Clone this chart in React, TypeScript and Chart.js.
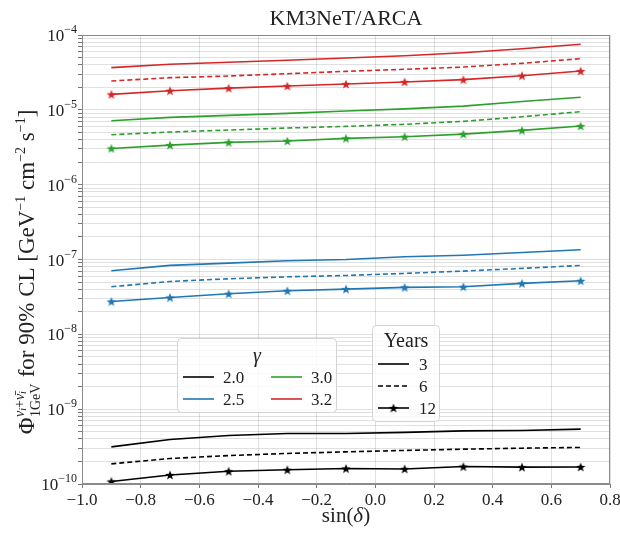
import React, { useEffect, useRef } from 'react';
import { Chart, registerables } from 'chart.js';

Chart.register(...registerables);

// ---------- data ----------
const sinDelta = [-0.9, -0.7, -0.5, -0.3, -0.1, 0.1, 0.3, 0.5, 0.7];
const gammaLabels = ['2.0', '2.5', '3.0', '3.2'];
const yearLabels = ['3', '6', '12'];
const yDecades = [-10, -9, -8, -7, -6, -5, -4];

const g32_y3 = [3.66e-5, 4.06e-5, 4.32e-5, 4.59e-5, 4.93e-5, 5.28e-5, 5.8e-5, 6.56e-5, 7.51e-5];
const g32_y6 = [2.43e-5, 2.69e-5, 2.83e-5, 3.04e-5, 3.27e-5, 3.48e-5, 3.73e-5, 4.18e-5, 4.83e-5];
const g32_y12 = [1.61e-5, 1.8e-5, 1.95e-5, 2.08e-5, 2.21e-5, 2.36e-5, 2.53e-5, 2.86e-5, 3.3e-5];

const g30_y3 = [7.14e-6, 7.94e-6, 8.43e-6, 8.97e-6, 9.64e-6, 1.03e-5, 1.12e-5, 1.29e-5, 1.47e-5];
const g30_y6 = [4.65e-6, 5.05e-6, 5.37e-6, 5.71e-6, 6.01e-6, 6.4e-6, 7.02e-6, 8.09e-6, 9.44e-6];
const g30_y12 = [3.05e-6, 3.38e-6, 3.67e-6, 3.83e-6, 4.16e-6, 4.37e-6, 4.74e-6, 5.32e-6, 6.07e-6];

const g25_y3 = [7.06e-8, 8.34e-8, 8.95e-8, 9.62e-8, 1.0e-7, 1.09e-7, 1.14e-7, 1.24e-7, 1.35e-7];
const g25_y6 = [4.32e-8, 5.09e-8, 5.52e-8, 5.87e-8, 6.12e-8, 6.52e-8, 7.0e-8, 7.6e-8, 8.34e-8];
const g25_y12 = [2.75e-8, 3.11e-8, 3.48e-8, 3.82e-8, 4.02e-8, 4.24e-8, 4.32e-8, 4.79e-8, 5.19e-8];

const g20_y3 = [3.13e-10, 3.94e-10, 4.45e-10, 4.73e-10, 4.73e-10, 4.89e-10, 5.13e-10, 5.19e-10, 5.41e-10];
const g20_y6 = [1.86e-10, 2.19e-10, 2.4e-10, 2.56e-10, 2.69e-10, 2.81e-10, 2.92e-10, 3.01e-10, 3.08e-10];
const g20_y12 = [1.08e-10, 1.32e-10, 1.48e-10, 1.55e-10, 1.61e-10, 1.59e-10, 1.71e-10, 1.68e-10, 1.69e-10];

// ---------- styles ----------
const COLORS: Record<string, string> = {
  '2.0': '#000000',
  '2.5': '#1f77b4',
  '3.0': '#2ca02c',
  '3.2': '#d62728',
};
const FONT = "'Liberation Serif', 'DejaVu Serif', serif";
const TEXT = '#222222';
const GRID = 'rgba(0,0,0,0.12)';

function makeStar(color: string, r: number) {
  const size = Math.ceil(r * 2 + 2);
  const c = document.createElement('canvas');
  c.width = size;
  c.height = size;
  const g = c.getContext('2d')!;
  const cx = size / 2;
  const cy = size / 2 + r * 0.1;
  g.beginPath();
  for (let i = 0; i < 10; i++) {
    const rad = i % 2 === 0 ? r : r * 0.42;
    const a = -Math.PI / 2 + (i * Math.PI) / 5;
    const x = cx + rad * Math.cos(a);
    const y = cy + rad * Math.sin(a);
    if (i === 0) g.moveTo(x, y);
    else g.lineTo(x, y);
  }
  g.closePath();
  g.fillStyle = color;
  g.fill();
  return c;
}

type Run = { t: string; size: number; dy: number; italic?: boolean };

function runFont(r: Run) {
  return `${r.italic ? 'italic ' : ''}${r.size}px ${FONT}`;
}

function measureRuns(ctx: CanvasRenderingContext2D, runs: Run[]) {
  return runs.reduce((a, r) => {
    ctx.font = runFont(r);
    return a + ctx.measureText(r.t).width;
  }, 0);
}

function drawRuns(ctx: CanvasRenderingContext2D, runs: Run[], x0: number, y0: number, centered: boolean) {
  const total = measureRuns(ctx, runs);
  let x = centered ? x0 - total / 2 : x0;
  runs.forEach((r) => {
    ctx.font = runFont(r);
    ctx.fillText(r.t, x, y0 + r.dy);
    x += ctx.measureText(r.t).width;
  });
  return total;
}

const overlayPlugin = {
  id: 'overlay',
  afterDraw(chart: any) {
    const ctx: CanvasRenderingContext2D = chart.ctx;
    const { left, right, top, bottom } = chart.chartArea;
    const yScale = chart.scales.y;
    ctx.save();

    // frame
    ctx.strokeStyle = '#8a8a8a';
    ctx.lineWidth = 1;
    ctx.strokeRect(left + 0.5, top + 0.5, right - left - 1, bottom - top - 1);

    ctx.fillStyle = TEXT;
    ctx.textBaseline = 'alphabetic';
    ctx.textAlign = 'left';

    // y tick labels 10^e
    yDecades.forEach((e) => {
      const y = yScale.getPixelForValue(Math.pow(10, e));
      const sup = '\u2212' + Math.abs(e);
      ctx.font = `12px ${FONT}`;
      const sw = ctx.measureText(sup).width;
      ctx.font = `17px ${FONT}`;
      const bw = ctx.measureText('10').width;
      const xr = left - 5;
      ctx.fillText('10', xr - sw - bw, y + 6);
      ctx.font = `12px ${FONT}`;
      ctx.fillText(sup, xr - sw, y - 2);
    });

    // title
    ctx.textAlign = 'center';
    ctx.font = `22px ${FONT}`;
    ctx.fillText('KM3NeT/ARCA', (left + right) / 2, 25);

    // x axis title
    ctx.textAlign = 'left';
    drawRuns(
      ctx,
      [
        { t: 'sin(', size: 21, dy: 0 },
        { t: 'δ', size: 21, dy: 0, italic: true },
        { t: ')', size: 21, dy: 0 },
      ],
      (left + right) / 2,
      522,
      true
    );

    // y axis title (rotated)
    ctx.save();
    ctx.translate(26, 272);
    ctx.rotate(-Math.PI / 2);
    const big = 23;
    const small = 14;
    const tiny = 10;
    const pre: Run[] = [{ t: 'Φ', size: big, dy: 0 }];
    const supRuns: Run[] = [
      { t: 'ν', size: small, dy: -10, italic: true },
      { t: 'i', size: tiny, dy: -8, italic: true },
      { t: '+', size: small, dy: -10 },
      { t: 'ν\u0304', size: small, dy: -10, italic: true },
      { t: 'i', size: tiny, dy: -8, italic: true },
    ];
    const subRuns: Run[] = [{ t: '1GeV', size: small, dy: 6 }];
    const post: Run[] = [
      { t: ' for 90% CL [GeV', size: big, dy: 0 },
      { t: '\u22121', size: small, dy: -9 },
      { t: ' cm', size: big, dy: 0 },
      { t: '\u22122', size: small, dy: -9 },
      { t: ' s', size: big, dy: 0 },
      { t: '\u22121', size: small, dy: -9 },
      { t: ']', size: big, dy: 0 },
    ];
    const wPre = measureRuns(ctx, pre);
    const wSup = measureRuns(ctx, supRuns);
    const wSub = measureRuns(ctx, subRuns);
    const wStack = Math.max(wSup, wSub) + 1;
    const wPost = measureRuns(ctx, post);
    const total = wPre + wStack + wPost;
    let x = -total / 2;
    ctx.textAlign = 'left';
    drawRuns(ctx, pre, x, 8, false);
    x += wPre;
    drawRuns(ctx, supRuns, x + 0.5, 8, false);
    drawRuns(ctx, subRuns, x + 0.5, 8, false);
    x += wStack;
    drawRuns(ctx, post, x, 8, false);
    ctx.restore();

    // legend boxes
    const box = (bx: number, by: number, w: number, h: number) => {
      ctx.beginPath();
      const r = 4;
      ctx.moveTo(bx + r, by);
      ctx.lineTo(bx + w - r, by);
      ctx.quadraticCurveTo(bx + w, by, bx + w, by + r);
      ctx.lineTo(bx + w, by + h - r);
      ctx.quadraticCurveTo(bx + w, by + h, bx + w - r, by + h);
      ctx.lineTo(bx + r, by + h);
      ctx.quadraticCurveTo(bx, by + h, bx, by + h - r);
      ctx.lineTo(bx, by + r);
      ctx.quadraticCurveTo(bx, by, bx + r, by);
      ctx.closePath();
      ctx.fillStyle = 'rgba(255,255,255,0.8)';
      ctx.fill();
      ctx.strokeStyle = '#d4d4d4';
      ctx.lineWidth = 1;
      ctx.stroke();
    };

    // gamma legend
    box(177.5, 338.5, 159, 74);
    ctx.fillStyle = TEXT;
    ctx.textAlign = 'center';
    ctx.font = `italic 20px ${FONT}`;
    ctx.fillText('γ', 257, 362);
    const gpos = [
      { lab: gammaLabels[0], x: 183, y: 377 },
      { lab: gammaLabels[1], x: 183, y: 399 },
      { lab: gammaLabels[2], x: 271, y: 377 },
      { lab: gammaLabels[3], x: 271, y: 399 },
    ];
    gpos.forEach((p) => {
      ctx.strokeStyle = COLORS[p.lab];
      ctx.lineWidth = 1.6;
      ctx.setLineDash([]);
      ctx.beginPath();
      ctx.moveTo(p.x, p.y);
      ctx.lineTo(p.x + 31, p.y);
      ctx.stroke();
      ctx.fillStyle = TEXT;
      ctx.textAlign = 'left';
      ctx.font = `17px ${FONT}`;
      ctx.fillText(p.lab, p.x + 40, p.y + 6);
    });

    // years legend
    box(372.5, 325.5, 67, 96);
    ctx.fillStyle = TEXT;
    ctx.textAlign = 'center';
    ctx.font = `20px ${FONT}`;
    ctx.fillText('Years', 406, 347);
    const ypos = [364, 386, 408];
    yearLabels.forEach((lab, i) => {
      const yy = ypos[i];
      ctx.strokeStyle = '#000';
      ctx.lineWidth = 1.6;
      ctx.setLineDash(i === 1 ? [5, 3] : []);
      ctx.beginPath();
      ctx.moveTo(378, yy);
      ctx.lineTo(409, yy);
      ctx.stroke();
      ctx.setLineDash([]);
      if (i === 2) {
        const s = makeStar('#000', 5);
        ctx.drawImage(s, 393.5 - s.width / 2, yy - s.height / 2);
      }
      ctx.fillStyle = TEXT;
      ctx.textAlign = 'left';
      ctx.font = `17px ${FONT}`;
      ctx.fillText(lab, 419, yy + 6);
    });

    ctx.restore();
  },
};

export default function App() {
  const ref = useRef<HTMLCanvasElement | null>(null);

  useEffect(() => {
    document.body.style.margin = '0';
    const canvas = ref.current;
    if (!canvas) return;

    const series: { g: string; y: string; data: number[] }[] = [
      { g: '2.0', y: '3', data: g20_y3 },
      { g: '2.0', y: '6', data: g20_y6 },
      { g: '2.0', y: '12', data: g20_y12 },
      { g: '2.5', y: '3', data: g25_y3 },
      { g: '2.5', y: '6', data: g25_y6 },
      { g: '2.5', y: '12', data: g25_y12 },
      { g: '3.0', y: '3', data: g30_y3 },
      { g: '3.0', y: '6', data: g30_y6 },
      { g: '3.0', y: '12', data: g30_y12 },
      { g: '3.2', y: '3', data: g32_y3 },
      { g: '3.2', y: '6', data: g32_y6 },
      { g: '3.2', y: '12', data: g32_y12 },
    ];

    const datasets = series.map((s) => {
      const color = COLORS[s.g];
      const star = s.y === '12';
      return {
        label: `γ=${s.g}, ${s.y} yr`,
        data: sinDelta.map((x, i) => ({ x, y: s.data[i] })),
        borderColor: color,
        backgroundColor: color,
        borderWidth: 1.6,
        borderDash: s.y === '6' ? [5, 3] : [],
        pointStyle: star ? makeStar(color, 5) : 'circle',
        pointRadius: star ? 5 : 0,
        pointHoverRadius: star ? 5 : 0,
        tension: 0,
        fill: false,
      };
    });

    const chart = new Chart(canvas, {
      type: 'line',
      data: { datasets },
      options: {
        responsive: false,
        animation: false,
        events: [],
        layout: { padding: { top: 35, right: 10, left: 0, bottom: 0 } },
        plugins: {
          legend: { display: false },
          tooltip: { enabled: false },
          title: { display: false },
        },
        scales: {
          x: {
            type: 'linear',
            min: -1.0,
            max: 0.8,
            ticks: {
              stepSize: 0.2,
              color: TEXT,
              font: { family: FONT, size: 17 },
              padding: 2,
              maxRotation: 0,
              callback: (v: any) => {
                const n = Math.round(Number(v) * 10) / 10;
                const s = Math.abs(n).toFixed(1);
                return n < 0 ? '\u2212' + s : s;
              },
            },
            grid: {
              color: GRID,
              lineWidth: 1,
              tickLength: 4,
              tickColor: '#777',
            },
            border: { color: '#8a8a8a' },
            afterFit: (s: any) => {
              s.height = 50;
              s.paddingLeft = 0;
              s.paddingRight = 0;
            },
          },
          y: {
            type: 'logarithmic',
            min: 1e-10,
            max: 1e-4,
            ticks: { display: false },
            grid: {
              color: GRID,
              lineWidth: 1,
              tickLength: 4,
              tickColor: '#777',
            },
            border: { color: '#8a8a8a' },
            afterBuildTicks: (s: any) => {
              const t: any[] = [];
              for (let e = -10; e <= -4; e++) {
                for (let m = 1; m <= 9; m++) {
                  const v = m * Math.pow(10, e);
                  if (v > 1e-4 * 1.0001) break;
                  t.push({ value: v, major: m === 1 });
                }
              }
              s.ticks = t;
            },
            afterFit: (s: any) => {
              s.width = 82;
              s.paddingTop = 0;
              s.paddingBottom = 0;
            },
          },
        },
      } as any,
      plugins: [overlayPlugin],
    });

    return () => chart.destroy();
  }, []);

  return (
    <div style={{ width: 620, height: 534 }}>
      <canvas ref={ref} width={620} height={534} style={{ display: 'block' }} />
    </div>
  );
}
